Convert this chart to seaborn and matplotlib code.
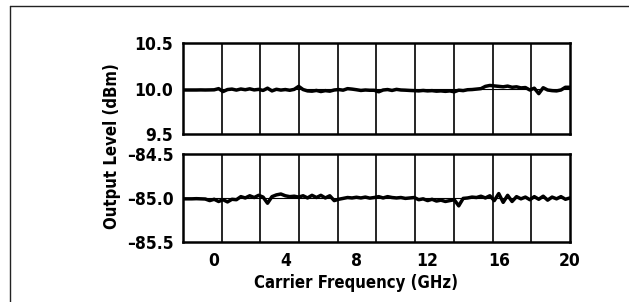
import numpy as np
import pandas as pd
import matplotlib
matplotlib.use("Agg")
import matplotlib.pyplot as plt
from matplotlib.lines import Line2D
from matplotlib.ticker import LinearLocator
from matplotlib import font_manager
import seaborn as sns

# ---- data ----
freq_ghz = np.arange(-1.75, 20.001, 0.25)

level_high_dbm = [
    9.985, 9.985, 9.985, 9.985, 9.986, 9.985, 9.986, 9.987,
    10.000, 9.968, 9.990, 9.995, 9.984, 9.996, 9.988, 9.998,
    9.986, 9.992, 9.980, 10.005, 9.975, 9.993, 9.984, 9.990,
    9.982, 9.992, 10.025, 9.990, 9.975, 9.972, 9.980, 9.968,
    9.978, 9.972, 9.985, 9.990, 9.983, 10.000, 9.995, 9.988,
    9.980, 9.985, 9.982, 9.982, 9.965, 9.985, 9.990, 9.980,
    9.992, 9.985, 9.983, 9.980, 9.978, 9.975, 9.980, 9.975,
    9.978, 9.972, 9.975, 9.970, 9.975, 9.965, 9.983, 9.978,
    9.988, 9.990, 9.995, 10.000, 10.025, 10.035, 10.030, 10.025,
    10.020, 10.028, 10.015, 10.020, 10.008, 10.012, 9.985, 10.005,
    9.945, 10.010, 9.985, 9.978, 9.975, 9.985, 10.015, 10.015,
]

level_low_dbm = [
    -85.010, -85.010, -85.010, -85.008, -85.010, -85.012, -85.030, -85.015,
    -85.040, -85.020, -85.045, -85.015, -85.020, -84.985, -85.000, -84.975,
    -84.995, -84.970, -84.990, -85.060, -84.985, -84.965, -84.955, -84.975,
    -84.985, -84.980, -84.990, -84.975, -85.000, -84.970, -84.995, -84.970,
    -85.000, -84.975, -85.030, -85.015, -85.005, -84.995, -85.000, -84.992,
    -85.000, -84.990, -85.002, -84.995, -84.985, -85.000, -84.985, -84.995,
    -85.000, -84.995, -85.005, -85.000, -84.995, -85.020, -85.010, -85.030,
    -85.015, -85.035, -85.025, -85.040, -85.030, -85.020, -85.090, -85.005,
    -85.000, -84.990, -84.995, -84.980, -85.000, -84.975, -85.030, -84.950,
    -85.050, -84.970, -85.040, -84.985, -85.010, -84.990, -85.020, -84.985,
    -85.015, -84.980, -85.025, -84.990, -85.010, -84.985, -85.015, -85.000,
]

x_ticks = [0, 4, 8, 12, 16, 20]
x_tick_labels = ["0", "4", "8", "12", "16", "20"]
high_ticks = [9.5, 10.0, 10.5]
high_tick_labels = ["9.5", "10.0", "10.5"]
low_ticks = [-85.5, -85.0, -84.5]
low_tick_labels = ["\u201385.5", "\u201385.0", "\u201384.5"]

n = min(len(freq_ghz), len(level_high_dbm), len(level_low_dbm))
df_high = pd.DataFrame({"freq": freq_ghz[:n], "level": level_high_dbm[:n]})
df_low = pd.DataFrame({"freq": freq_ghz[:n], "level": level_low_dbm[:n]})

# ---- style ----
sns.set_style("white")
plt.rcParams["font.family"] = ["DejaVu Sans"]
plt.rcParams["font.stretch"] = "condensed"
plt.rcParams["font.weight"] = "bold"
plt.rcParams["text.color"] = "black"
plt.rcParams["xtick.color"] = "black"
plt.rcParams["ytick.color"] = "black"
plt.rcParams["axes.labelcolor"] = "black"
FS_TICK = 12.5
FS_LAB = 12
TXT = dict(fontstretch="condensed", fontweight="bold")

fig = plt.figure(figsize=(6.29, 3.02), dpi=100)
ax1 = fig.add_axes([0.291, 0.556, 0.615, 0.301])
ax2 = fig.add_axes([0.291, 0.199, 0.615, 0.291])

for ax, df, ylim, yt, ytl in [
    (ax1, df_high, (9.5, 10.5), high_ticks, high_tick_labels),
    (ax2, df_low, (-85.5, -84.5), low_ticks, low_tick_labels),
]:
    ax.axhline(np.mean(ylim), color="black", lw=0.8, zorder=1)
    sns.lineplot(data=df, x="freq", y="level", ax=ax, color="black",
                 lw=2.5, estimator=None, zorder=3)
    ax.set_xlim(-1.75, 20.0)
    ax.set_ylim(*ylim)
    ax.xaxis.set_minor_locator(LinearLocator(11))
    ax.grid(False)
    ax.grid(which="minor", axis="x", color="black", lw=1.2)
    ax.set_yticks(yt)
    ax.set_yticklabels(ytl, fontsize=FS_TICK, **TXT)
    ax.set_xticks(x_ticks)
    ax.tick_params(which="both", length=0, pad=7)
    for s in ax.spines.values():
        s.set_visible(True)
        s.set_color("black")
        s.set_linewidth(1.8)
    ax.set_xlabel("")
    ax.set_ylabel("")

ax1.set_xticklabels([])
ax2.set_xticklabels(x_tick_labels, fontsize=FS_TICK, **TXT)
ax2.set_xlabel("Carrier Frequency (GHz)", fontsize=FS_LAB, **TXT)
ax2.xaxis.set_label_coords((356 - 183) / 387, -0.36)

fig.text(112 / 629, 1 - 146 / 302, "Output Level (dBm)", rotation=90,
         ha="center", va="center", fontsize=FS_LAB, **TXT)

# outer frame (left and top edges)
fig.add_artist(Line2D([10 / 629, 10 / 629], [0, 1 - 6 / 302],
                      transform=fig.transFigure, color="#222222", lw=1.0))
fig.add_artist(Line2D([10 / 629, 1], [1 - 6 / 302, 1 - 6 / 302],
                      transform=fig.transFigure, color="#222222", lw=1.0))

fig.savefig("out.png", dpi=100, facecolor="white")
